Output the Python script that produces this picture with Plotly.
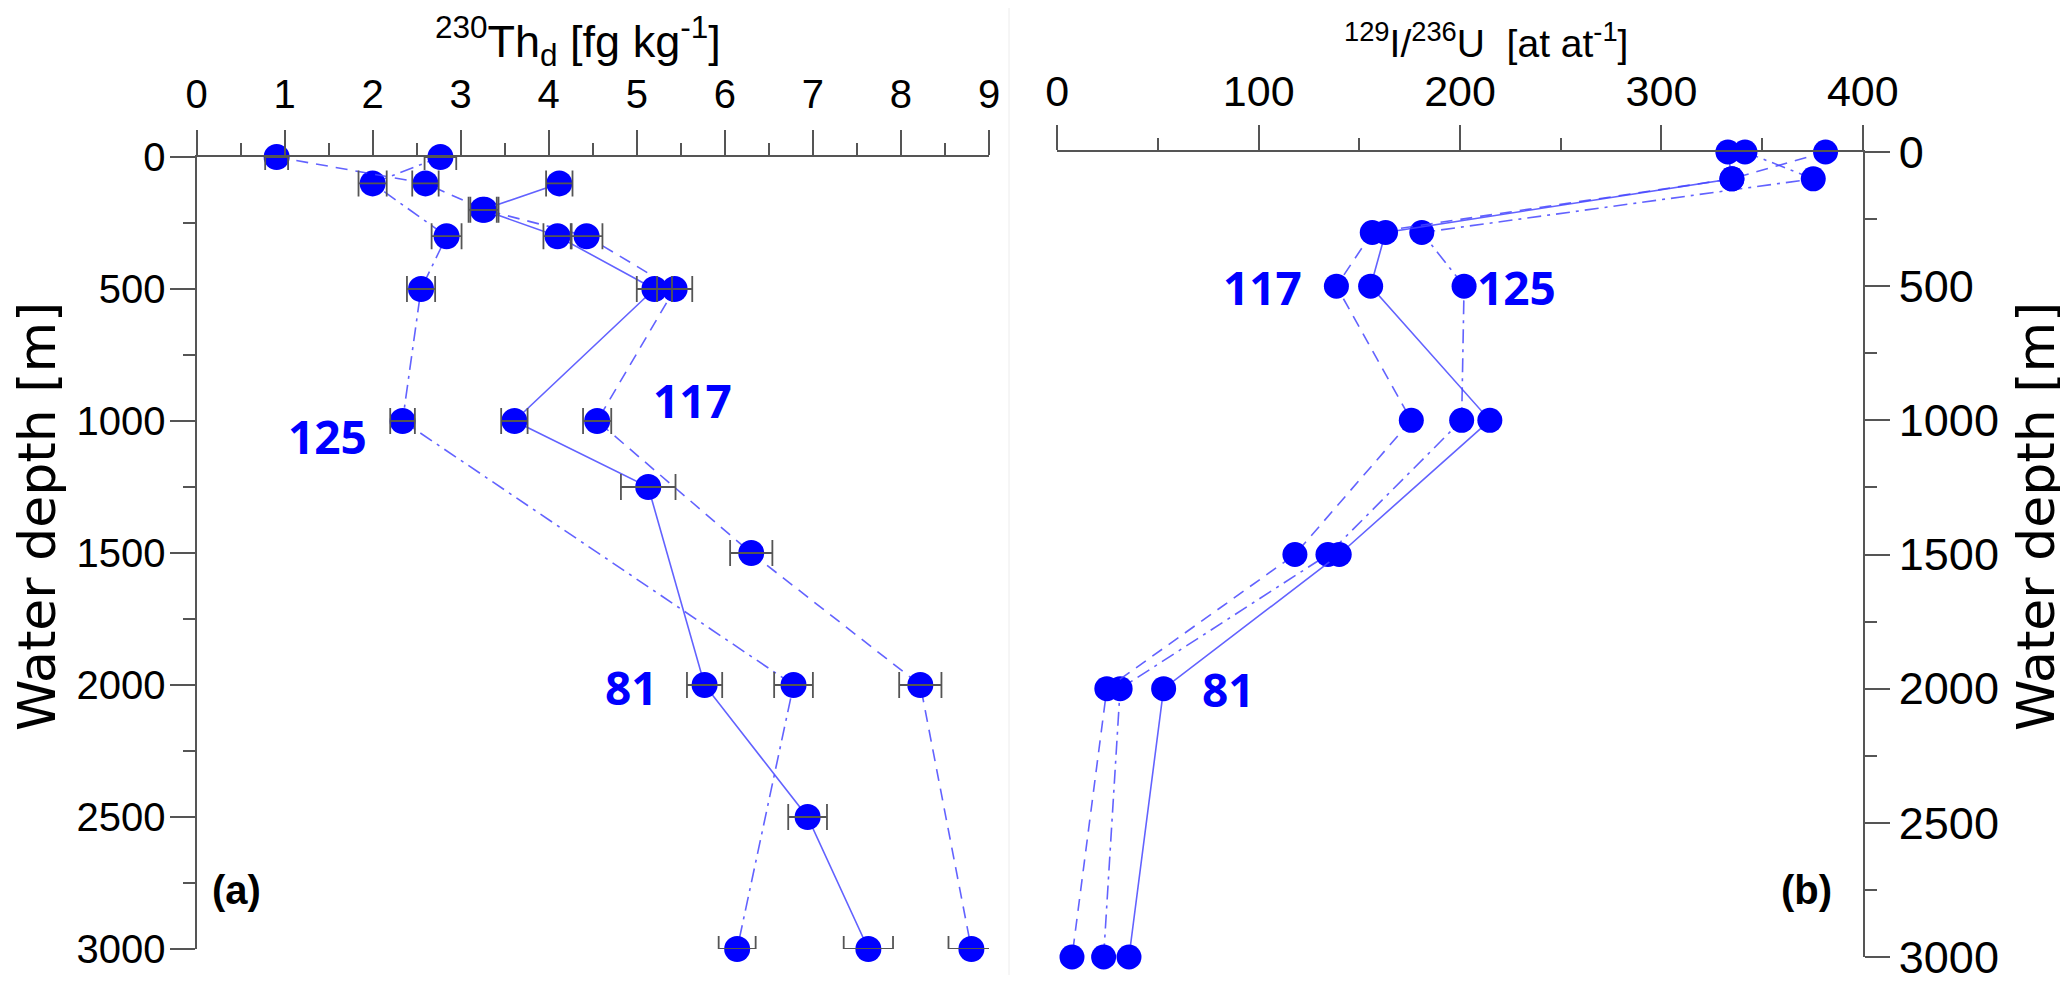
import plotly.graph_objects as go

# The page body has an 8px margin, so the figure is sized to fit inside the window
OFF = 8
W, H = 2068 - OFF, 1000 - OFF

# ---------------- Data: panel (a) 230Th_d [fg/kg] ----------------
th_81_depth = [100, 200, 300, 500, 1000, 1250, 2000, 2500, 3000]
th_81_val   = [4.12, 3.25, 4.10, 5.20, 3.61, 5.13, 5.77, 6.94, 7.63]
th_81_err   = [0.15, 0.16, 0.16, 0.20, 0.15, 0.31, 0.20, 0.22, 0.28]

th_117_depth = [0, 100, 200, 300, 500, 1000, 1500, 2000, 3000]
th_117_val   = [0.91, 2.60, 3.27, 4.43, 5.43, 4.55, 6.30, 8.22, 8.80]
th_117_err   = [0.13, 0.15, 0.16, 0.18, 0.20, 0.16, 0.24, 0.24, 0.26]

th_125_depth = [0, 100, 300, 500, 1000, 2000, 3000]
th_125_val   = [2.77, 2.00, 2.84, 2.55, 2.34, 6.78, 6.14]
th_125_err   = [0.18, 0.16, 0.17, 0.16, 0.14, 0.22, 0.21]

# ---------------- Data: panel (b) 129I/236U [at/at] ----------------
iu_81_depth = [0, 100, 300, 500, 1000, 1500, 2000, 3000]
iu_81_val   = [333, 335, 163, 155.6, 214.8, 140, 52.8, 35.6]

iu_117_depth = [0, 100, 300, 500, 1000, 1500, 2000, 3000]
iu_117_val   = [381.5, 335, 156.4, 138.6, 175.8, 118, 24.6, 7.3]

iu_125_depth = [0, 100, 300, 500, 1000, 1500, 2000, 3000]
iu_125_val   = [341.5, 375.4, 181, 202, 200.8, 134.4, 31.2, 23.0]

th_ticks = list(range(0, 10))
iu_ticks = [0, 100, 200, 300, 400]
depth_ticks = [0, 500, 1000, 1500, 2000, 2500, 3000]

# ---------------- Styles ----------------
BLUE = "#0000ff"
LINE = "rgba(70,70,255,0.85)"
DASHES = {"81": "solid", "117": "12px,8px", "125": "14px,6px,3px,6px"}
ERRC = "#555555"
AXC = "#555555"
SANS = "Liberation Sans, Arial, sans-serif"

fig = go.Figure()

def add_series(x, y, key, xa, ya, msize):
    fig.add_trace(go.Scatter(
        x=x, y=y, mode="lines+markers", xaxis=xa, yaxis=ya, cliponaxis=False,
        line=dict(color=LINE, width=1.6, dash=DASHES[key]),
        marker=dict(color=BLUE, size=msize, line=dict(width=0)),
        showlegend=False, hoverinfo="skip"))

def add_err(x, y, err, xa, ya):
    fig.add_trace(go.Scatter(
        x=x, y=y, mode="markers", xaxis=xa, yaxis=ya, cliponaxis=False,
        marker=dict(color="rgba(0,0,0,0)", size=1),
        error_x=dict(type="data", array=err, visible=True, color=ERRC,
                     thickness=1.8, width=13),
        showlegend=False, hoverinfo="skip"))

add_series(th_125_val, th_125_depth, "125", "x", "y", 26)
add_series(th_117_val, th_117_depth, "117", "x", "y", 26)
add_series(th_81_val, th_81_depth, "81", "x", "y", 26)
add_err(th_125_val, th_125_depth, th_125_err, "x", "y")
add_err(th_117_val, th_117_depth, th_117_err, "x", "y")
add_err(th_81_val, th_81_depth, th_81_err, "x", "y")

add_series(iu_125_val, iu_125_depth, "125", "x2", "y2", 25)
add_series(iu_117_val, iu_117_depth, "117", "x2", "y2", 25)
add_series(iu_81_val, iu_81_depth, "81", "x2", "y2", 25)

def px(x):
    return (x - OFF) / W

def py(y):
    return 1 - (y - OFF) / H

def axis_common(size):
    return dict(showline=True, linecolor=AXC, linewidth=2, ticks="outside",
                ticklen=25, tickwidth=2, tickcolor=AXC, showgrid=False,
                zeroline=False, automargin=False,
                tickfont=dict(family=SANS, size=size, color="black"))

def minor(d):
    return dict(dtick=d, ticklen=12, tickwidth=2, tickcolor=AXC,
                ticks="outside", showgrid=False)

fig.update_layout(
    width=W, height=H, paper_bgcolor="white", plot_bgcolor="rgba(0,0,0,0)",
    margin=dict(l=0, r=0, t=0, b=0, pad=0, autoexpand=False),
    xaxis=dict(domain=[px(196.5), px(989)], range=[0, 9], side="top",
               anchor="y", tickvals=th_ticks, ticklabelstandoff=6,
               minor=minor(0.5), **axis_common(40)),
    yaxis=dict(domain=[py(949), py(157)], range=[3000, 0], anchor="x",
               tickvals=depth_ticks, ticklabelstandoff=-4,
               minor=minor(250), **axis_common(40)),
    xaxis2=dict(domain=[px(1057.3), px(1862.8)], range=[0, 400], side="top",
                anchor="y2", tickvals=iu_ticks, ticklabelstandoff=2,
                minor=minor(50), **axis_common(43)),
    yaxis2=dict(domain=[py(957), py(152)], range=[3000, 0], anchor="x2",
                side="right", tickvals=depth_ticks, minor=minor(250),
                **axis_common(45)),
)

YTITLEFONT = dict(family="DejaVu Sans, Verdana, sans-serif", size=52, color="black")
LABFONT = dict(family="Open Sans, Lato, sans-serif", size=46, color=BLUE)
PANFONT = dict(family=SANS, size=40, color="black")

annots = [
    dict(x=px(578), y=py(41), text="<sup>230</sup>Th<sub>d</sub> [fg kg<sup>-1</sup>]",
         font=dict(family=SANS, size=45, color="black")),
    dict(x=px(1486), y=py(41), text="<sup>129</sup>I/<sup>236</sup>U  [at at<sup>-1</sup>]",
         font=dict(family=SANS, size=39, color="black")),
    dict(x=px(37), y=py(517), text="Water depth [m]", textangle=-90, font=YTITLEFONT),
    dict(x=px(2036), y=py(517), text="Water depth [m]", textangle=-90, font=YTITLEFONT),
    dict(x=px(692), y=py(400), text="<b>117</b>", font=LABFONT),
    dict(x=px(327), y=py(436), text="<b>125</b>", font=LABFONT),
    dict(x=px(631), y=py(687), text="<b>81</b>", font=LABFONT),
    dict(x=px(1262), y=py(287), text="<b>117</b>", font=LABFONT),
    dict(x=px(1516), y=py(287), text="<b>125</b>", font=LABFONT),
    dict(x=px(1228), y=py(689), text="<b>81</b>", font=LABFONT),
    dict(x=px(236), y=py(890), text="<b>(a)</b>", font=PANFONT),
    dict(x=px(1806), y=py(890), text="<b>(b)</b>", font=PANFONT),
]
for a in annots:
    a.update(xref="paper", yref="paper", showarrow=False, xanchor="center", yanchor="middle")
fig.update_layout(annotations=annots)

fig.add_shape(type="line", xref="paper", yref="paper", x0=px(1009), x1=px(1009),
              y0=py(975), y1=py(OFF), line=dict(color="#ececec", width=1))

fig.write_html("out.html")
